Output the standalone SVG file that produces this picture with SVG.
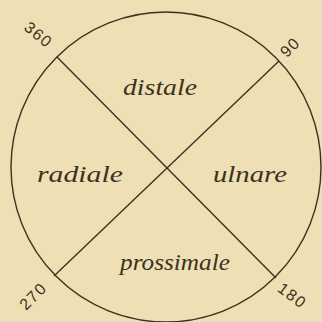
<svg xmlns="http://www.w3.org/2000/svg" width="322" height="322" viewBox="0 0 322 322">
<style>
.ln{fill:none;stroke:#3b3220;stroke-width:1.4}
.lab{font-family:"Liberation Serif","DejaVu Serif",serif;font-style:italic;font-size:23px;fill:#3b3220}
.num{font-family:"Liberation Sans","DejaVu Sans",sans-serif;font-size:16px;letter-spacing:1.5px;fill:#3b3220;text-anchor:middle}
</style>
<rect width="322" height="322" fill="#eee0b4"/>
<g id="circle"><circle class="ln" cx="166" cy="167" r="155"/></g>
<g id="connectors">
<line class="ln" x1="57" y1="57" x2="276" y2="278"/>
<line class="ln" x1="279" y1="61" x2="54" y2="276"/>
</g>
<g id="distale"><text class="lab" x="123" y="95" textLength="74" lengthAdjust="spacingAndGlyphs">distale</text></g>
<g id="radiale"><text class="lab" x="37" y="182" textLength="86" lengthAdjust="spacingAndGlyphs">radiale</text></g>
<g id="ulnare"><text class="lab" x="213" y="182" textLength="74" lengthAdjust="spacingAndGlyphs">ulnare</text></g>
<g id="prossimale"><text class="lab" x="120" y="270" textLength="110" lengthAdjust="spacingAndGlyphs">prossimale</text></g>
<g id="n360"><text class="num" transform="translate(35,39) rotate(40)">360</text></g>
<g id="n90"><text class="num" transform="translate(294,51) rotate(-45)">90</text></g>
<g id="n270"><text class="num" transform="translate(37,300) rotate(-45)">270</text></g>
<g id="n180"><text class="num" transform="translate(289,300) rotate(37)">180</text></g>
</svg>
